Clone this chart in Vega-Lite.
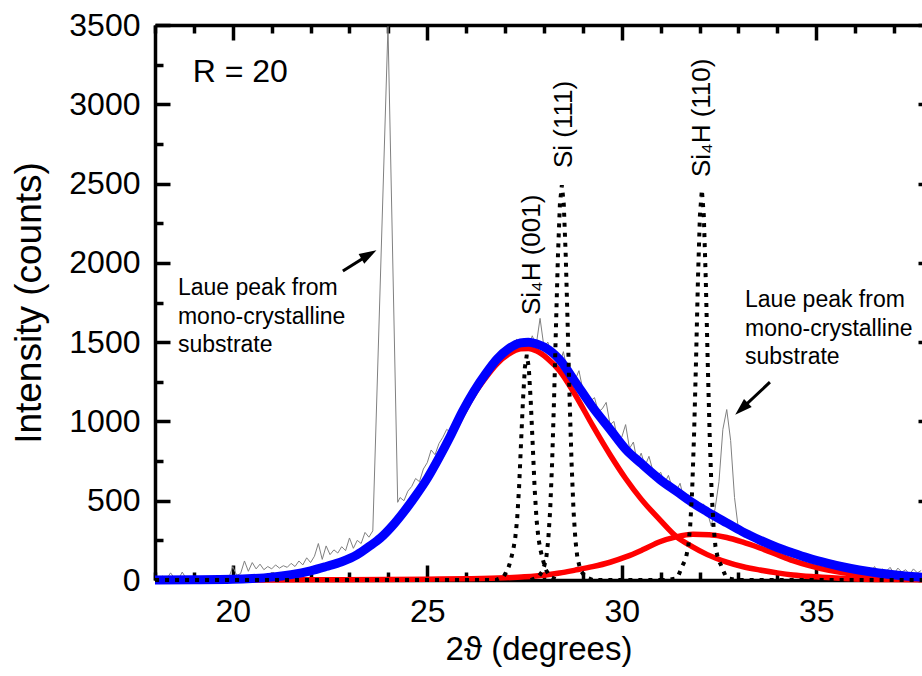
{
  "$schema": "https://vega.github.io/schema/vega-lite/v6.json",
  "width": 767,
  "height": 555,
  "autosize": {"type": "none"},
  "padding": {"left": 155, "top": 25, "right": 0, "bottom": 96},
  "background": "white",
  "config": {
    "view": {"stroke": null},
    "axis": {
      "grid": false,
      "domainColor": "black",
      "domainWidth": 3.5,
      "tickColor": "black",
      "tickWidth": 3.5,
      "labelColor": "black",
      "titleColor": "black",
      "labelFont": "Liberation Sans",
      "titleFont": "Liberation Sans",
      "labelFontSize": 32,
      "titleFontSize": 34,
      "titleFontWeight": "normal"
    }
  },
  "datasets": {
    "gray": [
      {"x":18.0,"y":10},{"x":18.1,"y":5},{"x":18.2,"y":25},{"x":18.3,"y":8},{"x":18.4,"y":45},{"x":18.5,"y":12},{"x":18.6,"y":3},{"x":18.7,"y":50},{"x":18.8,"y":10},{"x":18.9,"y":20},
      {"x":19.0,"y":8},{"x":19.1,"y":15},{"x":19.2,"y":5},{"x":19.3,"y":18},{"x":19.4,"y":10},{"x":19.5,"y":25},{"x":19.6,"y":8},{"x":19.7,"y":12},{"x":19.8,"y":20},{"x":19.9,"y":15},
      {"x":20.0,"y":85},{"x":20.1,"y":30},{"x":20.2,"y":40},{"x":20.3,"y":120},{"x":20.4,"y":55},{"x":20.5,"y":110},{"x":20.6,"y":70},{"x":20.7,"y":100},{"x":20.8,"y":65},{"x":20.9,"y":85},
      {"x":21.0,"y":70},{"x":21.1,"y":95},{"x":21.2,"y":75},{"x":21.3,"y":90},{"x":21.4,"y":80},{"x":21.5,"y":105},{"x":21.6,"y":85},{"x":21.7,"y":120},{"x":21.8,"y":95},{"x":21.9,"y":140},
      {"x":22.0,"y":110},{"x":22.1,"y":150},{"x":22.2,"y":230},{"x":22.3,"y":130},{"x":22.4,"y":215},{"x":22.5,"y":160},{"x":22.6,"y":190},{"x":22.7,"y":170},{"x":22.8,"y":210},{"x":22.9,"y":185},
      {"x":23.0,"y":265},{"x":23.1,"y":200},{"x":23.2,"y":250},{"x":23.3,"y":230},{"x":23.4,"y":300},{"x":23.5,"y":270},{"x":23.6,"y":310},{"x":23.99,"y":3490},{"x":24.24,"y":490},
      {"x":24.3,"y":520},{"x":24.4,"y":500},{"x":24.5,"y":560},{"x":24.6,"y":590},{"x":24.7,"y":640},{"x":24.8,"y":620},{"x":24.9,"y":700},
      {"x":25.0,"y":740},{"x":25.1,"y":820},{"x":25.2,"y":790},{"x":25.3,"y":860},{"x":25.4,"y":900},{"x":25.5,"y":950},{"x":25.6,"y":930},{"x":25.7,"y":1010},{"x":25.8,"y":1060},{"x":25.9,"y":1080},
      {"x":26.0,"y":1140},{"x":26.1,"y":1150},{"x":26.2,"y":1210},{"x":26.3,"y":1230},{"x":26.4,"y":1300},{"x":26.5,"y":1290},{"x":26.6,"y":1350},{"x":26.7,"y":1330},{"x":26.8,"y":1420},{"x":26.9,"y":1400},
      {"x":27.0,"y":1450},{"x":27.1,"y":1470},{"x":27.2,"y":1440},{"x":27.3,"y":1520},{"x":27.4,"y":1480},{"x":27.5,"y":1510},{"x":27.6,"y":1470},{"x":27.7,"y":1540},{"x":27.8,"y":1480},{"x":27.9,"y":1650},
      {"x":28.0,"y":1470},{"x":28.1,"y":1500},{"x":28.2,"y":1420},{"x":28.3,"y":1440},{"x":28.4,"y":1360},{"x":28.5,"y":1440},{"x":28.6,"y":1320},{"x":28.7,"y":1310},{"x":28.8,"y":1260},{"x":28.9,"y":1320},
      {"x":29.0,"y":1200},{"x":29.1,"y":1180},{"x":29.2,"y":1130},{"x":29.3,"y":1150},{"x":29.4,"y":1060},{"x":29.5,"y":1080},{"x":29.6,"y":1120},{"x":29.7,"y":980},{"x":29.8,"y":1000},{"x":29.9,"y":880},
      {"x":30.0,"y":900},{"x":30.1,"y":980},{"x":30.2,"y":830},{"x":30.3,"y":870},{"x":30.4,"y":740},{"x":30.5,"y":800},{"x":30.6,"y":720},{"x":30.7,"y":780},{"x":30.8,"y":690},{"x":30.9,"y":650},
      {"x":31.0,"y":680},{"x":31.1,"y":610},{"x":31.2,"y":660},{"x":31.3,"y":580},{"x":31.4,"y":560},{"x":31.5,"y":610},{"x":31.6,"y":510},{"x":31.7,"y":540},{"x":31.8,"y":470},{"x":31.9,"y":500},
      {"x":32.0,"y":440},{"x":32.1,"y":480},{"x":32.2,"y":430},{"x":32.3,"y":340},{"x":32.4,"y":450},{"x":32.5,"y":620},{"x":32.6,"y":950},{"x":32.7,"y":1075},{"x":32.8,"y":880},{"x":32.9,"y":520},
      {"x":33.0,"y":320},{"x":33.1,"y":300},{"x":33.2,"y":290},{"x":33.3,"y":310},{"x":33.4,"y":260},{"x":33.5,"y":280},{"x":33.6,"y":240},{"x":33.7,"y":250},{"x":33.8,"y":220},{"x":33.9,"y":240},
      {"x":34.0,"y":190},{"x":34.1,"y":200},{"x":34.2,"y":170},{"x":34.3,"y":195},{"x":34.4,"y":150},{"x":34.5,"y":165},{"x":34.6,"y":140},{"x":34.7,"y":160},{"x":34.8,"y":120},{"x":34.9,"y":130},
      {"x":35.0,"y":105},{"x":35.1,"y":125},{"x":35.2,"y":95},{"x":35.3,"y":110},{"x":35.4,"y":85},{"x":35.5,"y":100},{"x":35.6,"y":75},{"x":35.7,"y":90},{"x":35.8,"y":70},{"x":35.9,"y":85},
      {"x":36.0,"y":60},{"x":36.1,"y":80},{"x":36.2,"y":55},{"x":36.3,"y":75},{"x":36.4,"y":50},{"x":36.5,"y":85},{"x":36.6,"y":45},{"x":36.7,"y":70},{"x":36.8,"y":55},{"x":36.9,"y":80},
      {"x":37.0,"y":40},{"x":37.1,"y":75},{"x":37.2,"y":50},{"x":37.3,"y":65},{"x":37.4,"y":35},{"x":37.5,"y":70},{"x":37.6,"y":45},{"x":37.7,"y":60}
    ],
    "red": [
      {"s":"c1","x":18,"y":0},{"s":"c1","x":19,"y":1},{"s":"c1","x":20,"y":4},{"s":"c1","x":20.5,"y":8},{"s":"c1","x":21,"y":17},{"s":"c1","x":21.5,"y":33},{"s":"c1","x":22,"y":56},{"s":"c1","x":22.4,"y":82},{"s":"c1","x":22.8,"y":112},{"s":"c1","x":23.2,"y":155},{"s":"c1","x":23.5,"y":205},{"s":"c1","x":23.8,"y":258},{"s":"c1","x":24.1,"y":335},{"s":"c1","x":24.4,"y":420},{"s":"c1","x":24.7,"y":520},{"s":"c1","x":25.0,"y":630},{"s":"c1","x":25.3,"y":755},{"s":"c1","x":25.6,"y":895},{"s":"c1","x":25.9,"y":1040},{"s":"c1","x":26.2,"y":1170},{"s":"c1","x":26.5,"y":1275},{"s":"c1","x":26.8,"y":1365},{"s":"c1","x":27.1,"y":1425},{"s":"c1","x":27.4,"y":1458},{"s":"c1","x":27.6,"y":1460},{"s":"c1","x":27.8,"y":1445},{"s":"c1","x":28.1,"y":1395},{"s":"c1","x":28.4,"y":1320},{"s":"c1","x":28.8,"y":1170},{"s":"c1","x":29.25,"y":975},{"s":"c1","x":29.7,"y":790},{"s":"c1","x":30.1,"y":640},{"s":"c1","x":30.5,"y":510},{"s":"c1","x":31.0,"y":375},{"s":"c1","x":31.4,"y":275},{"s":"c1","x":31.8,"y":212},{"s":"c1","x":32.2,"y":160},{"s":"c1","x":32.7,"y":113},{"s":"c1","x":33.1,"y":85},{"s":"c1","x":33.55,"y":63},{"s":"c1","x":34.0,"y":45},{"s":"c1","x":34.4,"y":32},{"s":"c1","x":35.0,"y":20},{"s":"c1","x":35.5,"y":12},{"s":"c1","x":36.0,"y":7},{"s":"c1","x":37.0,"y":3},{"s":"c1","x":38.0,"y":1},
      {"s":"c2","x":18,"y":0},{"s":"c2","x":22,"y":1},{"s":"c2","x":24,"y":3},{"s":"c2","x":25,"y":5},{"s":"c2","x":26,"y":8},{"s":"c2","x":27,"y":14},{"s":"c2","x":27.5,"y":20},{"s":"c2","x":28.0,"y":30},{"s":"c2","x":28.4,"y":44},{"s":"c2","x":28.8,"y":62},{"s":"c2","x":29.25,"y":84},{"s":"c2","x":29.7,"y":112},{"s":"c2","x":30.12,"y":147},{"s":"c2","x":30.55,"y":192},{"s":"c2","x":30.98,"y":241},{"s":"c2","x":31.4,"y":272},{"s":"c2","x":31.83,"y":288},{"s":"c2","x":32.25,"y":285},{"s":"c2","x":32.7,"y":268},{"s":"c2","x":33.1,"y":240},{"s":"c2","x":33.55,"y":202},{"s":"c2","x":34.0,"y":160},{"s":"c2","x":34.4,"y":122},{"s":"c2","x":34.8,"y":92},{"s":"c2","x":35.3,"y":62},{"s":"c2","x":35.7,"y":45},{"s":"c2","x":36.1,"y":32},{"s":"c2","x":36.6,"y":20},{"s":"c2","x":37.1,"y":13},{"s":"c2","x":37.65,"y":8},{"s":"c2","x":38,"y":6}
    ],
    "blue": [
      {"x":18,"y":0},{"x":19,"y":1},{"x":20,"y":4},{"x":20.5,"y":9},{"x":21,"y":18},{"x":21.5,"y":34},{"x":22,"y":58},{"x":22.4,"y":85},{"x":22.8,"y":115},{"x":23.2,"y":160},{"x":23.5,"y":210},{"x":23.8,"y":265},{"x":24.1,"y":340},{"x":24.4,"y":430},{"x":24.7,"y":530},{"x":25.0,"y":640},{"x":25.3,"y":770},{"x":25.6,"y":910},{"x":25.9,"y":1060},{"x":26.2,"y":1190},{"x":26.5,"y":1300},{"x":26.8,"y":1395},{"x":27.1,"y":1460},{"x":27.4,"y":1495},{"x":27.6,"y":1500},{"x":27.8,"y":1490},{"x":28.0,"y":1470},{"x":28.4,"y":1390},{"x":28.8,"y":1250},{"x":29.25,"y":1090},{"x":29.7,"y":950},{"x":30.1,"y":825},{"x":30.5,"y":735},{"x":31.0,"y":630},{"x":31.4,"y":560},{"x":31.8,"y":490},{"x":32.2,"y":430},{"x":32.7,"y":360},{"x":33.1,"y":305},{"x":33.55,"y":252},{"x":34.0,"y":205},{"x":34.4,"y":170},{"x":34.8,"y":138},{"x":35.3,"y":105},{"x":35.7,"y":82},{"x":36.1,"y":63},{"x":36.6,"y":44},{"x":37.1,"y":30},{"x":37.65,"y":19},{"x":38,"y":14}
    ],
    "dots": [
      {"s":"A","x":18,"y":0},{"s":"A","x":26.76,"y":0},{"s":"A","x":26.96,"y":20},{"s":"A","x":27.06,"y":60},{"s":"A","x":27.11,"y":95},{"s":"A","x":27.16,"y":140},{"s":"A","x":27.21,"y":190},{"s":"A","x":27.26,"y":260},{"s":"A","x":27.31,"y":380},{"s":"A","x":27.36,"y":580},{"s":"A","x":27.41,"y":860},{"s":"A","x":27.46,"y":1130},{"s":"A","x":27.51,"y":1340},{"s":"A","x":27.56,"y":1420},{"s":"A","x":27.61,"y":1340},{"s":"A","x":27.66,"y":1130},{"s":"A","x":27.71,"y":860},{"s":"A","x":27.76,"y":580},{"s":"A","x":27.81,"y":380},{"s":"A","x":27.86,"y":260},{"s":"A","x":27.91,"y":190},{"s":"A","x":27.96,"y":140},{"s":"A","x":28.01,"y":95},{"s":"A","x":28.06,"y":60},{"s":"A","x":28.16,"y":20},{"s":"A","x":28.36,"y":0},
      {"s":"B","x":27.66,"y":0},{"s":"B","x":27.86,"y":20},{"s":"B","x":27.96,"y":55},{"s":"B","x":28.01,"y":90},{"s":"B","x":28.06,"y":140},{"s":"B","x":28.11,"y":250},{"s":"B","x":28.16,"y":440},{"s":"B","x":28.21,"y":740},{"s":"B","x":28.26,"y":1140},{"s":"B","x":28.31,"y":1605},{"s":"B","x":28.36,"y":2045},{"s":"B","x":28.41,"y":2370},{"s":"B","x":28.46,"y":2490},{"s":"B","x":28.51,"y":2370},{"s":"B","x":28.56,"y":2045},{"s":"B","x":28.61,"y":1605},{"s":"B","x":28.66,"y":1140},{"s":"B","x":28.71,"y":740},{"s":"B","x":28.76,"y":440},{"s":"B","x":28.81,"y":250},{"s":"B","x":28.86,"y":140},{"s":"B","x":28.91,"y":90},{"s":"B","x":28.96,"y":55},{"s":"B","x":29.06,"y":20},{"s":"B","x":29.26,"y":0},{"s":"B","x":31.0,"y":0},
      {"s":"C","x":31.0,"y":0},{"s":"C","x":31.16,"y":0},{"s":"C","x":31.36,"y":8},{"s":"C","x":31.46,"y":30},{"s":"C","x":31.51,"y":60},{"s":"C","x":31.56,"y":90},{"s":"C","x":31.61,"y":115},{"s":"C","x":31.66,"y":150},{"s":"C","x":31.71,"y":210},{"s":"C","x":31.76,"y":340},{"s":"C","x":31.81,"y":560},{"s":"C","x":31.86,"y":920},{"s":"C","x":31.91,"y":1380},{"s":"C","x":31.96,"y":1900},{"s":"C","x":32.01,"y":2300},{"s":"C","x":32.06,"y":2460},{"s":"C","x":32.11,"y":2300},{"s":"C","x":32.16,"y":1900},{"s":"C","x":32.21,"y":1380},{"s":"C","x":32.26,"y":920},{"s":"C","x":32.31,"y":560},{"s":"C","x":32.36,"y":340},{"s":"C","x":32.41,"y":210},{"s":"C","x":32.46,"y":150},{"s":"C","x":32.51,"y":115},{"s":"C","x":32.56,"y":90},{"s":"C","x":32.61,"y":60},{"s":"C","x":32.66,"y":30},{"s":"C","x":32.76,"y":8},{"s":"C","x":32.96,"y":0},{"s":"C","x":37.72,"y":0}
    ],
    "arrows": [
      {"x":22.83,"y":1948,"x2":23.5,"y2":2052},
      {"x":33.81,"y":1248,"x2":33.08,"y2":1079}
    ],
    "headL": [{"x":23.5,"y":2052}],
    "headR": [{"x":33.08,"y":1079}],
    "rlabel": [{"x":18.97,"y":3140,"t":"R = 20"}],
    "laue": [
      {"x":18.59,"y":1797,"t":"Laue peak from\nmono-crystalline\nsubstrate"},
      {"x":33.17,"y":1721,"t":"Laue peak from\nmono-crystalline\nsubstrate"}
    ],
    "peaks": [
      {"x":27.89,"y":1671,"t":"Si₄H (001)"},
      {"x":28.72,"y":2598,"t":"Si (111)"},
      {"x":32.27,"y":2541,"t":"Si₄H (110)"}
    ]
  },
  "resolve": {"axis": {"x": "independent", "y": "independent"}},
  "layer": [
    {
      "data": {"name": "gray"},
      "mark": {"type": "line", "color": "#808080", "strokeWidth": 1},
      "encoding": {
        "x": {"field": "x", "type": "quantitative",
              "scale": {"domain": [18, 37.72], "nice": false, "zero": false},
              "axis": {"orient": "bottom", "values": [20, 25, 30, 35], "format": "d", "title": "2ϑ (degrees)", "domain": true, "tickSize": -15, "labelPadding": 31, "titlePadding": 6, "titleFontSize": 33}},
        "y": {"field": "y", "type": "quantitative",
              "scale": {"domain": [0, 3500], "nice": false, "zero": false},
              "axis": {"orient": "left", "values": [0, 500, 1000, 1500, 2000, 2500, 3000, 3500], "format": "d", "title": "Intensity (counts)", "domain": true, "tickSize": -15, "labelPadding": 30, "titlePadding": 20, "titleFontSize": 37}}
      }
    },
    {
      "data": {"name": "red"},
      "mark": {"type": "line", "color": "#ff0000", "strokeWidth": 5.5, "interpolate": "monotone"},
      "encoding": {
        "x": {"field": "x", "type": "quantitative",
              "axis": {"orient": "bottom", "values": [18, 19, 21, 22, 23, 24, 26, 27, 28, 29, 31, 32, 33, 34, 36, 37], "tickSize": -8, "labels": false, "domain": false, "title": null}},
        "y": {"field": "y", "type": "quantitative",
              "axis": {"orient": "left", "values": [250, 750, 1250, 1750, 2250, 2750, 3250], "tickSize": -8, "labels": false, "domain": false, "title": null}},
        "detail": {"field": "s", "type": "nominal"}
      }
    },
    {
      "data": {"name": "blue"},
      "mark": {"type": "line", "color": "#0000ff", "strokeWidth": 9, "interpolate": "monotone"},
      "encoding": {
        "x": {"field": "x", "type": "quantitative",
              "axis": {"orient": "top", "values": [20, 25, 30, 35], "tickSize": -15, "labels": false, "domain": true, "title": null}},
        "y": {"field": "y", "type": "quantitative",
              "axis": {"orient": "right", "values": [0, 500, 1000, 1500, 2000, 2500, 3000, 3500], "tickSize": -4, "labels": false, "domain": false, "title": null}}
      }
    },
    {
      "data": {"name": "dots"},
      "mark": {"type": "line", "color": "black", "strokeWidth": 4, "strokeDash": [4, 6]},
      "encoding": {
        "x": {"field": "x", "type": "quantitative",
              "axis": {"orient": "top", "values": [18, 19, 21, 22, 23, 24, 26, 27, 28, 29, 31, 32, 33, 34, 36, 37], "tickSize": -8, "labels": false, "domain": false, "title": null}},
        "y": {"field": "y", "type": "quantitative", "axis": null},
        "detail": {"field": "s", "type": "nominal"}
      }
    },
    {
      "data": {"name": "arrows"},
      "mark": {"type": "rule", "color": "black", "strokeWidth": 3},
      "encoding": {
        "x": {"field": "x", "type": "quantitative", "axis": null},
        "y": {"field": "y", "type": "quantitative", "axis": null},
        "x2": {"field": "x2"},
        "y2": {"field": "y2"}
      }
    },
    {
      "data": {"name": "headL"},
      "mark": {"type": "point", "shape": "M0,-1L0.65,1L-0.65,1Z", "size": 300, "filled": true, "color": "black", "opacity": 1, "angle": 60},
      "encoding": {
        "x": {"field": "x", "type": "quantitative", "axis": null},
        "y": {"field": "y", "type": "quantitative", "axis": null}
      }
    },
    {
      "data": {"name": "headR"},
      "mark": {"type": "point", "shape": "M0,-1L0.65,1L-0.65,1Z", "size": 300, "filled": true, "color": "black", "opacity": 1, "angle": 227},
      "encoding": {
        "x": {"field": "x", "type": "quantitative", "axis": null},
        "y": {"field": "y", "type": "quantitative", "axis": null}
      }
    },
    {
      "data": {"name": "rlabel"},
      "mark": {"type": "text", "font": "Liberation Sans", "fontSize": 32, "align": "left", "baseline": "alphabetic", "color": "black"},
      "encoding": {
        "x": {"field": "x", "type": "quantitative", "axis": null},
        "y": {"field": "y", "type": "quantitative", "axis": null},
        "text": {"field": "t"}
      }
    },
    {
      "data": {"name": "laue"},
      "mark": {"type": "text", "font": "Liberation Sans", "fontSize": 23, "align": "left", "baseline": "alphabetic", "lineBreak": "\n", "lineHeight": 28.5, "color": "black"},
      "encoding": {
        "x": {"field": "x", "type": "quantitative", "axis": null},
        "y": {"field": "y", "type": "quantitative", "axis": null},
        "text": {"field": "t"}
      }
    },
    {
      "data": {"name": "peaks"},
      "mark": {"type": "text", "font": "Liberation Sans", "fontSize": 26, "align": "left", "baseline": "alphabetic", "angle": 270, "color": "black"},
      "encoding": {
        "x": {"field": "x", "type": "quantitative", "axis": null},
        "y": {"field": "y", "type": "quantitative", "axis": null},
        "text": {"field": "t"}
      }
    }
  ]
}
